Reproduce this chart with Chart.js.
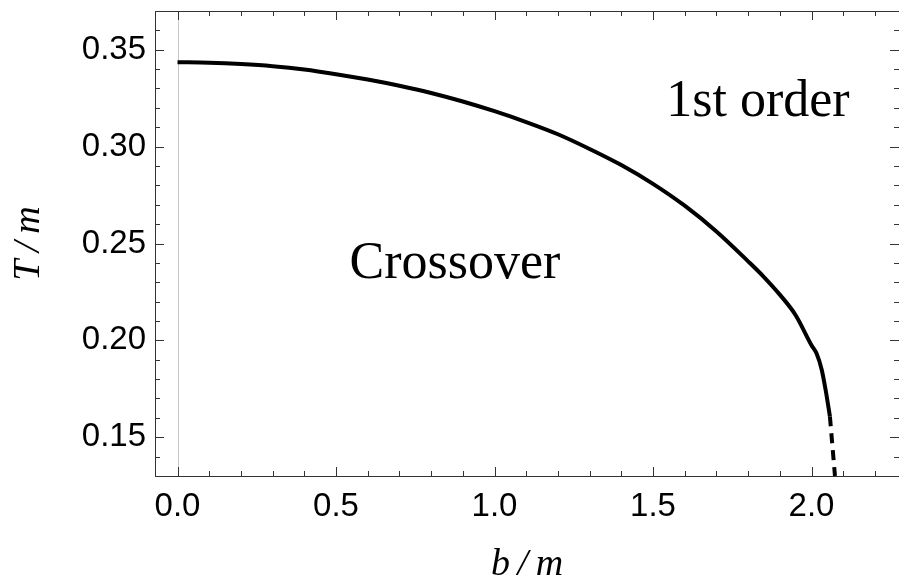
<!DOCTYPE html>
<html>
<head>
<meta charset="utf-8">
<script src="https://cdn.jsdelivr.net/npm/chart.js@4.4.1/dist/chart.umd.min.js"></script>
<style>
  html, body { margin: 0; padding: 0; background: #fff; }
</style>
</head>
<body>
<canvas id="phase" width="899" height="586"></canvas>
<script>
// crossover line (solid) and its first order continuation (dashed)
const bSolid = [0, 0.1, 0.2, 0.3, 0.4, 0.5, 0.6, 0.7, 0.8, 0.9, 1.0, 1.1, 1.2, 1.3, 1.4, 1.5, 1.6, 1.7, 1.8, 1.85, 1.9, 1.95, 2.0, 2.016, 2.032, 2.045, 2.058]
const tSolid = [0.3436, 0.3433, 0.3426, 0.3415, 0.3398, 0.3374, 0.3346, 0.3314, 0.3277, 0.3233, 0.3183, 0.3127, 0.3064, 0.2988, 0.2905, 0.2808, 0.2695, 0.2562, 0.2408, 0.2327, 0.2236, 0.2130, 0.1975, 0.1932, 0.1850, 0.1740, 0.1608]
const bDashed = [2.058, 2.074]
const tDashed = [0.1608, 0.130]

const xTicks = [0, 0.5, 1.0, 1.5, 2.0]
const yTicks = [0.15, 0.20, 0.25, 0.30, 0.35]
const xMinor = [0.1, 0.2, 0.3, 0.4, 0.6, 0.7, 0.8, 0.9, 1.1, 1.2, 1.3, 1.4, 1.6, 1.7, 1.8, 1.9, 2.1, 2.2]
const yMinor = [0.14, 0.16, 0.17, 0.18, 0.19, 0.21, 0.22, 0.23, 0.24, 0.26, 0.27, 0.28, 0.29, 0.31, 0.32, 0.33, 0.34, 0.36]

const regionNames = ['Crossover', '1st order']
const regionB = [0.875, 1.831]
const regionT = [0.239, 0.323]

const pts = (xs, ys) => xs.map((x, i) => ({ x: x, y: ys[i] }))

// Mathematica-like frame: inward ticks on all four sides, plus the b = 0 axis
const frame = {
  id: 'frame',
  beforeDatasetsDraw(chart) {
    const { ctx, chartArea: a, scales: { x } } = chart
    const x0 = Math.round(x.getPixelForValue(0)) + 0.5
    ctx.save()
    ctx.strokeStyle = '#c8c8c8'
    ctx.lineWidth = 1
    ctx.beginPath()
    ctx.moveTo(x0, a.top)
    ctx.lineTo(x0, a.bottom)
    ctx.stroke()
    ctx.restore()
  },
  afterDatasetsDraw(chart) {
    const { ctx, chartArea: a, scales: { x, y } } = chart
    ctx.save()
    ctx.strokeStyle = '#333'
    ctx.lineWidth = 1
    ctx.strokeRect(a.left + 0.5, a.top + 0.5, a.right - a.left, a.bottom - a.top)
    const xt = (v, len) => {
      const p = Math.round(x.getPixelForValue(v)) + 0.5
      ctx.moveTo(p, a.bottom); ctx.lineTo(p, a.bottom - len)
      ctx.moveTo(p, a.top); ctx.lineTo(p, a.top + len)
    }
    const yt = (v, len) => {
      const p = Math.round(y.getPixelForValue(v)) + 0.5
      ctx.moveTo(a.left, p); ctx.lineTo(a.left + len, p)
      ctx.moveTo(a.right, p); ctx.lineTo(a.right - len, p)
    }
    ctx.beginPath()
    xTicks.forEach(v => xt(v, 9))
    xMinor.forEach(v => xt(v, 5))
    yTicks.forEach(v => yt(v, 9))
    yMinor.forEach(v => yt(v, 5))
    ctx.stroke()

    ctx.fillStyle = '#000'
    ctx.font = '52px "Liberation Serif"'
    ctx.textAlign = 'center'
    ctx.textBaseline = 'middle'
    regionNames.forEach((t, i) => {
      ctx.fillText(t, x.getPixelForValue(regionB[i]), y.getPixelForValue(regionT[i]))
    })
    ctx.restore()
  }
}

new Chart(document.getElementById('phase'), {
  type: 'line',
  data: {
    datasets: [
      {
        data: pts(bSolid, tSolid),
        borderColor: '#000',
        borderWidth: 4,
        pointRadius: 0,
        cubicInterpolationMode: 'monotone',
      },
      {
        data: pts(bDashed, tDashed),
        borderColor: '#000',
        borderWidth: 4,
        borderDash: [10, 7],
        pointRadius: 0,
      },
    ],
  },
  options: {
    responsive: false,
    animation: false,
    layout: { padding: { top: 11, left: 0, right: 0, bottom: 0 } },
    plugins: {
      legend: { display: false },
      tooltip: { enabled: false },
    },
    scales: {
      x: {
        type: 'linear',
        min: -0.071,
        max: 2.276,
        grid: { display: false, drawTicks: false },
        border: { display: false },
        afterBuildTicks: (s) => { s.ticks = xTicks.map(v => ({ value: v })) },
        afterFit: (s) => {
          s.height = 110
          s.paddingLeft = 0
          s.paddingRight = 0
        },
        ticks: {
          padding: 11,
          autoSkip: false,
          maxRotation: 0,
          color: '#000',
          font: { family: 'Liberation Sans', size: 33 },
          callback: (v) => v.toFixed(1),
        },
        title: {
          display: true,
          text: 'b\u2009/\u2009m',
          color: '#000',
          padding: 0,
          font: { family: 'Liberation Serif', style: 'italic', size: 38, lineHeight: 1.1 },
        },
      },
      y: {
        type: 'linear',
        min: 0.13,
        max: 0.37,
        grid: { display: false, drawTicks: false },
        border: { display: false },
        afterBuildTicks: (s) => { s.ticks = yTicks.map(v => ({ value: v })) },
        afterFit: (s) => {
          s.width = 155
          s.paddingTop = 0
          s.paddingBottom = 0
        },
        ticks: {
          padding: 9,
          autoSkip: false,
          color: '#000',
          font: { family: 'Liberation Sans', size: 33 },
          callback: (v) => v.toFixed(2),
        },
        title: {
          display: true,
          text: 'T\u2009/\u2009m',
          color: '#000',
          padding: { top: 8, bottom: 0 },
          font: { family: 'Liberation Serif', style: 'italic', size: 38, lineHeight: 1.1 },
        },
      },
    },
  },
  plugins: [frame],
})
</script>
</body>
</html>
